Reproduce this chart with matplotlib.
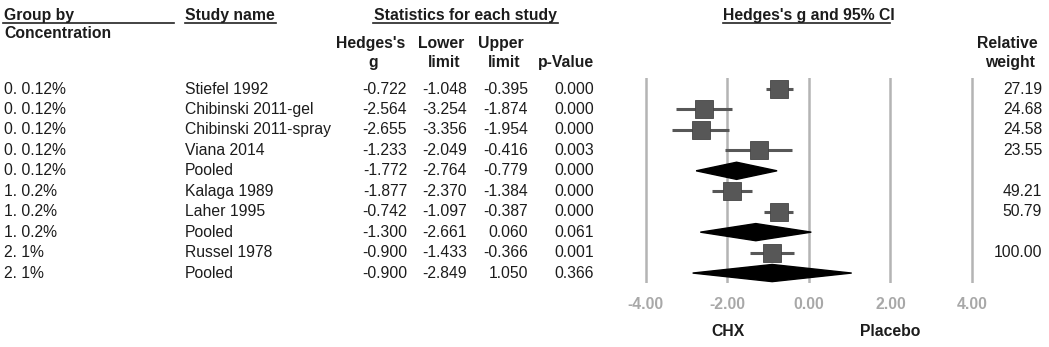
import matplotlib.pyplot as plt
import matplotlib.transforms as mtransforms

plt.rcParams['font.family'] = ['Liberation Sans', 'DejaVu Sans']

# Data
groups = ['0. 0.12%', '0. 0.12%', '0. 0.12%', '0. 0.12%', '0. 0.12%',
          '1. 0.2%', '1. 0.2%', '1. 0.2%', '2. 1%', '2. 1%']
studies = ['Stiefel 1992', 'Chibinski 2011-gel', 'Chibinski 2011-spray', 'Viana 2014', 'Pooled',
           'Kalaga 1989', 'Laher 1995', 'Pooled', 'Russel 1978', 'Pooled']
hedges_g = [-0.722, -2.564, -2.655, -1.233, -1.772, -1.877, -0.742, -1.300, -0.900, -0.900]
lower = [-1.048, -3.254, -3.356, -2.049, -2.764, -2.370, -1.097, -2.661, -1.433, -2.849]
upper = [-0.395, -1.874, -1.954, -0.416, -0.779, -1.384, -0.387, 0.060, -0.366, 1.050]
p_values = [0.000, 0.000, 0.000, 0.003, 0.000, 0.000, 0.000, 0.061, 0.001, 0.366]
rel_weight = [27.19, 24.68, 24.58, 23.55, None, 49.21, 50.79, None, 100.00, None]
ticks = [-4, -2, 0, 2, 4]

W, H = 1049, 347
fig = plt.figure(figsize=(W / 100, H / 100), dpi=100)

# background axes in pixel coordinates for the table text
bg = fig.add_axes([0, 0, 1, 1])
bg.set_xlim(0, W)
bg.set_ylim(H, 0)
bg.axis('off')

# forest plot axes: -4 at px 645.7, 4 at px 972, rows start at px 89, step 20.45
px_per_unit = (972 - 645.7) / 8
x_lo, x_hi = -4.2, 4.2
left_px = 645.7 - 0.2 * px_per_unit
top_px, bot_px = 78, 283
row_step = 20.45
ax = fig.add_axes([left_px / W, (H - bot_px) / H,
                   (x_hi - x_lo) * px_per_unit / W, (bot_px - top_px) / H])
ax.set_xlim(x_lo, x_hi)
ax.set_ylim((bot_px - 89) / row_step, (top_px - 89) / row_step)
for s in ax.spines.values():
    s.set_visible(False)
ax.set_yticks([])
ax.set_xticks(ticks)
ax.set_xticklabels([f'{t:.2f}' for t in ticks], color='#a8a8a8',
                   fontweight='bold', fontsize=11.3)
ax.tick_params(axis='x', length=0, pad=10)

for t in ticks:
    ax.axvline(t, color='#b4b4b4', lw=1.8, zorder=1)

dark = '#575757'
for i in range(len(studies)):
    if rel_weight[i] is None:
        h = 0.42
        ax.fill([lower[i], hedges_g[i], upper[i], hedges_g[i]],
                [i, i - h, i, i + h], color='black', zorder=3)
    else:
        ax.plot([lower[i], upper[i]], [i, i], color=dark, lw=2.2, zorder=2,
                solid_capstyle='butt')
        ax.plot(hedges_g[i], i, marker='s', ms=12.3, color=dark,
                mec='#444444', mew=0.6, zorder=3)

# table text: x in pixels, y in row units
tr = mtransforms.blended_transform_factory(bg.transData, ax.transData)
fs = 11.3
txt = '#1c1c1c'
for i in range(len(studies)):
    bg.text(4, i, groups[i], transform=tr, fontsize=fs, color=txt, va='center')
    bg.text(185, i, studies[i], transform=tr, fontsize=fs, color=txt, va='center')
    bg.text(407, i, f'{hedges_g[i]:.3f}', transform=tr, fontsize=fs, color=txt,
            va='center', ha='right')
    bg.text(467, i, f'{lower[i]:.3f}', transform=tr, fontsize=fs, color=txt,
            va='center', ha='right')
    bg.text(528, i, f'{upper[i]:.3f}', transform=tr, fontsize=fs, color=txt,
            va='center', ha='right')
    bg.text(594, i, f'{p_values[i]:.3f}', transform=tr, fontsize=fs, color=txt,
            va='center', ha='right')
    if rel_weight[i] is not None:
        bg.text(1042, i, f'{rel_weight[i]:.2f}', transform=tr, fontsize=fs,
                color=txt, va='center', ha='right')

# headers
hd = dict(fontsize=fs, fontweight='bold', color=txt, va='center')
bg.text(4, 15, 'Group by', **hd)
bg.text(4, 33, 'Concentration', **hd)
bg.text(185, 15, 'Study name', **hd)
bg.text(465, 15, 'Statistics for each study', ha='center', **hd)
bg.text(809, 15, "Hedges's g and 95% CI", ha='center', **hd)
bg.text(371, 43, "Hedges's", ha='center', **hd)
bg.text(373, 62, 'g', ha='center', **hd)
bg.text(441, 43, 'Lower', ha='center', **hd)
bg.text(444, 62, 'limit', ha='center', **hd)
bg.text(501, 43, 'Upper', ha='center', **hd)
bg.text(504, 62, 'limit', ha='center', **hd)
bg.text(566, 62, 'p-Value', ha='center', **hd)
bg.text(1007, 43, 'Relative', ha='center', **hd)
bg.text(1010, 62, 'weight', ha='center', **hd)

# underlines
for x0, x1 in [(3, 174), (185, 276), (373, 558), (723, 890)]:
    bg.plot([x0, x1], [23, 23], color='#222222', lw=1.2)

# axis side labels
bg.text(728, 332, 'CHX', ha='center', **hd)
bg.text(890, 332, 'Placebo', ha='center', **hd)

fig.savefig('out.png', dpi=100)
